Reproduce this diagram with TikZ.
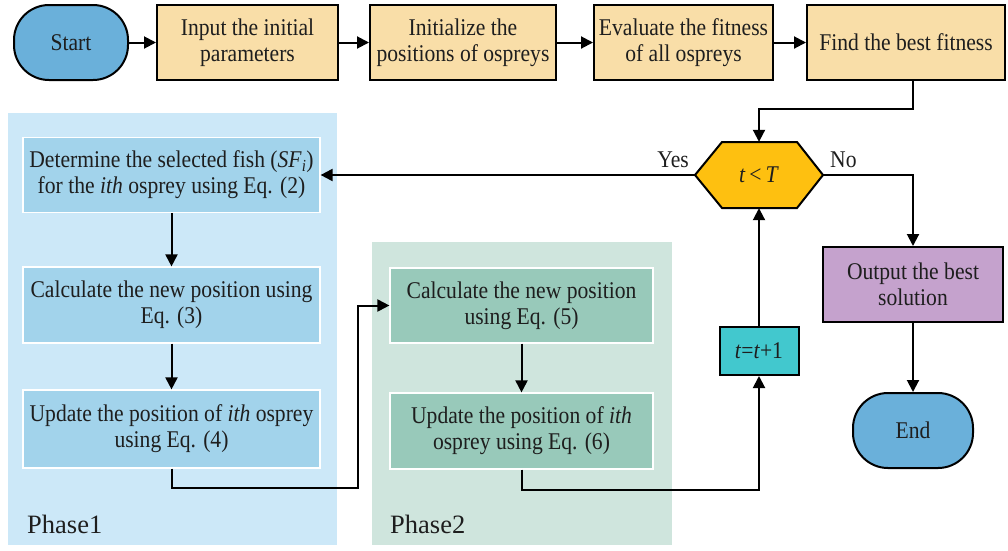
\documentclass[tikz,border=0pt]{standalone}
\usepackage{fontspec}
\setmainfont{Liberation Serif}[FakeStretch=0.9]
\newfontfamily\phasefont{Liberation Serif}
\usetikzlibrary{arrows.meta,positioning,calc}
\definecolor{termblue}{RGB}{106,176,218}
\definecolor{tan}{RGB}{249,222,168}
\definecolor{ponebg}{RGB}{204,232,248}
\definecolor{ponebox}{RGB}{162,211,235}
\definecolor{ptwobg}{RGB}{207,229,221}
\definecolor{ptwobox}{RGB}{152,201,186}
\definecolor{hexcol}{RGB}{254,192,16}
\definecolor{purp}{RGB}{197,162,205}
\definecolor{cyanbox}{RGB}{66,200,206}
\definecolor{ink}{RGB}{30,30,30}
\tikzset{
  txt/.style={font=\fontsize{24}{26}\selectfont, text=ink, align=center, inner sep=0pt},
  terminal/.style={txt, draw=black, line width=2pt, fill=termblue, rounded corners=35pt},
  topbox/.style={txt, draw=black, line width=2pt, fill=tan, minimum height=75pt},
  oneBox/.style={txt, draw=white, line width=1.2pt, fill=ponebox, minimum width=297pt},
  twoBox/.style={txt, draw=white, line width=1.2pt, fill=ptwobox, minimum width=263pt},
  arr/.style={line width=2pt, draw=black, -{Triangle[length=12pt,width=12pt]}},
  phaselbl/.style={font=\phasefont\fontsize{26.5}{28}\selectfont, text=ink, anchor=west, inner sep=0pt},
}
\begin{document}
\begin{tikzpicture}[x=1pt,y=-1pt]
\useasboundingbox (0,0) rectangle (1008,550);
% phase backgrounds
\fill[ponebg] (8,113) rectangle (337,545);
\fill[ptwobg] (372,242) rectangle (672,545);
\node[phaselbl] (ph1) at (27,524) {Phase1};
\node[phaselbl] (ph2) at (390,524) {Phase2};
% top row
\node[terminal, minimum width=114pt, minimum height=75pt] (start) at (71,42.5) {Start};
\node[topbox, minimum width=181pt] (input) at (247.5,42.5) {Input the initial\\parameters};
\node[topbox, minimum width=186pt] (init) at (463,42.5) {Initialize the\\positions of ospreys};
\node[topbox, minimum width=179pt] (eval) at (683.5,42.5) {Evaluate the fitness\\of all ospreys};
\node[topbox, minimum width=198pt] (find) at (906,42.5) {Find the best fitness};
% phase 1
\node[oneBox, minimum height=75pt] (b1) at (171.5,175) {Determine the selected fish (\textit{SF}\textsubscript{\textit{i}})\\for the \textit{ith} osprey using Eq. (2)};
\node[oneBox, minimum height=76pt] (b2) at (171.5,305) {Calculate the new position using\\Eq. (3)};
\node[oneBox, minimum height=78pt] (b3) at (171.5,429) {Update the position of \textit{ith} osprey\\using Eq. (4)};
% phase 2
\node[twoBox, minimum height=75pt] (b4) at (521.5,305.5) {Calculate the new position\\using Eq. (5)};
\node[twoBox, minimum height=76pt] (b5) at (521.5,431) {Update the position of \textit{ith}\\osprey using Eq. (6)};
% decision
\fill[hexcol, draw=black, line width=2pt, line join=miter] (695,175) -- (722,142) -- (797,142) -- (823,175) -- (797,208) -- (722,208) -- cycle;
\node[txt, minimum width=128pt, minimum height=66pt] (hex) at (759,175) {\textit{t}\,<\,\textit{T}};
\node[txt, anchor=south east] (yes) at (689,168) {Yes};
\node[txt, anchor=south west] (no) at (830,168) {No};
\node[txt, draw=black, line width=2pt, fill=purp, minimum width=180pt, minimum height=75pt] (out) at (913,284.5) {Output the best\\solution};
\node[terminal, minimum width=120pt, minimum height=75pt] (end) at (913,430.5) {End};
\node[txt, draw=black, line width=2pt, fill=cyanbox, minimum width=79pt, minimum height=48pt] (inc) at (759,351) {\textit{t}=\textit{t}+1};
% helper coordinates
\coordinate (fd) at (913,80);
\coordinate (fk) at (913,109);
\coordinate (p1) at (358,488);
\coordinate (p2) at (759,490);
% connectors
\draw[arr] (start) -- (input);
\draw[arr] (input) -- (init);
\draw[arr] (init) -- (eval);
\draw[arr] (eval) -- (find);
\draw[arr] (fd) -- (fk) -| (hex.north);
\draw[arr] (hex.west) -- (b1.east);
\draw[arr] (hex.east) -| (out.north);
\draw[arr] (out) -- (end);
\draw[arr] (b1) -- (b2);
\draw[arr] (b2) -- (b3);
\draw[arr] (b3.south) |- (p1) |- (b4.west);
\draw[arr] (b4) -- (b5);
\draw[arr] (b5.south) |- (p2) -- (inc.south);
\draw[arr] (inc.north) -- (hex.south);
\end{tikzpicture}
\end{document}
